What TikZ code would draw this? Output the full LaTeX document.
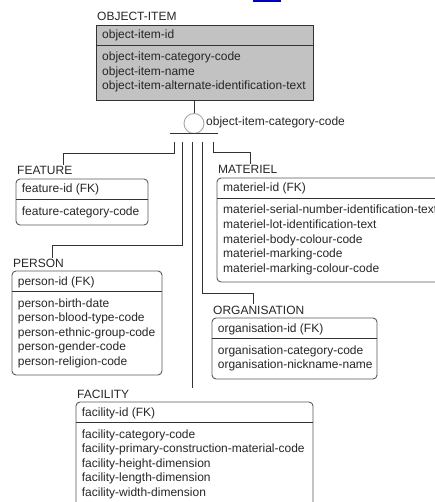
\documentclass[tikz,border=0pt]{standalone}
\usepackage{fontspec}
\setmainfont{Liberation Sans}
\begin{document}
\begin{tikzpicture}[x=1pt,y=-1pt,
  ebox/.style={draw=black!65, line width=0.9pt, rounded corners=4pt, anchor=north west, inner sep=0pt, outer sep=0pt},
  pbox/.style={draw=black!80, line width=0.9pt, fill=black!24, anchor=north west, inner sep=0pt, outer sep=0pt},
  divider/.style={draw=black!80, line width=0.9pt},
  link/.style={draw=black!80, line width=0.9pt},
  title/.style={anchor=base west, inner sep=0pt, font=\fontsize{12}{14.5}\selectfont, text=black!85},
  row/.style={anchor=base west, inner sep=0pt, font=\fontsize{12}{14.5}\selectfont, text=black!85},
  disc/.style={circle, draw=black!35, line width=0.9pt, minimum size=20pt, inner sep=0pt, outer sep=0pt}]
\useasboundingbox (0,0) rectangle (435,502);
\clip (0,0) rectangle (435,502);

% link marker at the top edge
\fill[blue!75!black] (253,0) rectangle (281,2);

% ---------- OBJECT-ITEM (supertype) ----------
\node[pbox, minimum width=217pt, minimum height=75pt] (obj) at (96,25) {};
\draw[divider] (96,45) -- (313,45);
\node[title] (objT) at (97,21) {OBJECT-ITEM};
\node[row] (objK) at (102,39) {object-item-id};
\foreach \t [count=\i] in {object-item-category-code,object-item-name,object-item-alternate-identification-text}
  \node[row] (objA\i) at ({102},{61+14.5*(\i-1)}) {\t};

% ---------- category discriminator ----------
\node[disc] (cat) at (194,123.5) {};
\node[row] (catL) at (206,126) {object-item-category-code};
\draw[link] (cat.north |- obj.south) -- (cat.north);
\coordinate (barL) at (170,133.5);
\coordinate (barR) at (218,133.5);
\draw[link] (barL) -- (barR);

% subtype taps below the bar
\coordinate (tapF) at (174,142);
\coordinate (tapP) at (182,142);
\coordinate (tapC) at (192,142);
\coordinate (tapO) at (202,142);
\coordinate (tapM) at (213,142);

% ---------- FEATURE ----------
\node[ebox, minimum width=132pt, minimum height=46pt] (feat) at (16,179) {};
\draw[divider] (16,199) -- (148,199);
\node[title] (featT) at (17,175) {FEATURE};
\node[row] (featK) at (21.7,193) {feature-id (FK)};
\node[row] (featA1) at (21.7,215) {feature-category-code};

% ---------- MATERIEL ----------
\node[ebox, minimum width=240pt, minimum height=104pt] (mat) at (217,178) {};
\draw[divider] (217,198) -- (457,198);
\node[title] (matT) at (218,174) {MATERIEL};
\node[row] (matK) at (223,192) {materiel-id (FK)};
\foreach \t [count=\i] in {materiel-serial-number-identification-text,materiel-lot-identification-text,materiel-body-colour-code,materiel-marking-code,materiel-marking-colour-code}
  \node[row] (matA\i) at ({223},{214+14.5*(\i-1)}) {\t};

% ---------- PERSON ----------
\node[ebox, minimum width=150pt, minimum height=104pt] (pers) at (12,271) {};
\draw[divider] (12,291) -- (162,291);
\node[title] (persT) at (13,267) {PERSON};
\node[row] (persK) at (17.7,285) {person-id (FK)};
\foreach \t [count=\i] in {person-birth-date,person-blood-type-code,person-ethnic-group-code,person-gender-code,person-religion-code}
  \node[row] (persA\i) at ({17.7},{307+14.5*(\i-1)}) {\t};

% ---------- ORGANISATION ----------
\node[ebox, minimum width=165pt, minimum height=61pt] (org) at (212,318) {};
\draw[divider] (212,338) -- (377,338);
\node[title] (orgT) at (213,314) {ORGANISATION};
\node[row] (orgK) at (217.7,332) {organisation-id (FK)};
\foreach \t [count=\i] in {organisation-category-code,organisation-nickname-name}
  \node[row] (orgA\i) at ({217.7},{354+14.5*(\i-1)}) {\t};

% ---------- FACILITY ----------
\node[ebox, minimum width=237pt, minimum height=110pt] (fac) at (76,402) {};
\draw[divider] (76,422) -- (313,422);
\node[title] (facT) at (77,398) {FACILITY};
\node[row] (facK) at (81.7,416) {facility-id (FK)};
\foreach \t [count=\i] in {facility-category-code,facility-primary-construction-material-code,facility-height-dimension,facility-length-dimension,facility-width-dimension}
  \node[row] (facA\i) at ({81.7},{438+14.5*(\i-1)}) {\t};

% ---------- subtype connectors ----------
\coordinate (endF) at (63,165);
\coordinate (endP) at (52,258);
\coordinate (endC) at (192,388);
\coordinate (endO) at (253,304);
\coordinate (endM) at (250,164);
\draw[link] (tapF) -- ++(0,11) -| (endF);
\draw[link] (tapP) -- ++(0,103) -| (endP);
\draw[link] (tapC) -- (endC);
\draw[link] (tapO) -- ++(0,151) -| (endO);
\draw[link] (tapM) -- ++(0,10) -| (endM);
\end{tikzpicture}
\end{document}
